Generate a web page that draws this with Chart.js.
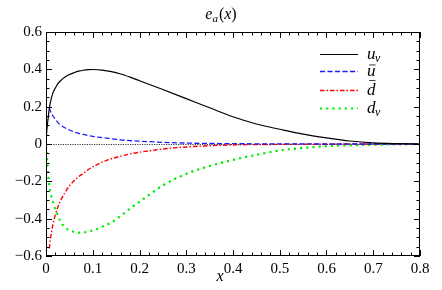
<!DOCTYPE html>
<html>
<head>
<meta charset="utf-8">
<script src="https://cdn.jsdelivr.net/npm/chart.js@4/dist/chart.umd.min.js"></script>
<style>
    body { margin: 0; background: #fff; }
    #wrap { width: 442px; height: 290px; position: relative; }
    #wrap canvas { position: absolute; left: 0; top: 0; }
    .probe { position: absolute; left: 2px; top: 270px; color: #fff; font: 12px "Liberation Serif"; }
</style>
</head>
<body>
<div id="wrap">
    <span class="probe">0.1 <i>x u</i></span>
    <canvas id="chart" width="442" height="290"></canvas>
</div>
<script>
const xs = [0, 0.002, 0.005, 0.007, 0.01, 0.015, 0.02, 0.025, 0.03, 0.04, 0.05, 0.06, 0.07, 0.08, 0.09, 0.1,
    0.12, 0.14, 0.16, 0.18, 0.2, 0.25, 0.3, 0.35, 0.4, 0.45, 0.5, 0.55, 0.6, 0.65, 0.7, 0.75, 0.8];
const uv = [0.0, 0.08, 0.146, 0.19, 0.23, 0.275, 0.30, 0.322, 0.336, 0.357, 0.372, 0.382, 0.39, 0.395, 0.398, 0.399,
    0.396, 0.388, 0.375, 0.358, 0.339, 0.292, 0.243, 0.194, 0.146, 0.107, 0.079, 0.053, 0.033, 0.016, 0.006, 0.002, 0.0];
const ubar = [null, null, null, 0.195, 0.172, 0.15, 0.132, 0.117, 0.104, 0.087, 0.075, 0.065, 0.057, 0.051, 0.046, 0.041,
    0.034, 0.028, 0.022, 0.018, 0.015, 0.009, 0.005, 0.003, 0.002, 0.001, 0.001, 0.0005, 0, 0, 0, 0, 0];
const dbar = [null, null, null, -0.56, -0.5, -0.43, -0.38, -0.34, -0.309, -0.262, -0.225, -0.197, -0.175, -0.157, -0.138, -0.122,
    -0.097, -0.079, -0.065, -0.053, -0.044, -0.027, -0.016, -0.009, -0.005, -0.003, -0.002, -0.001, -0.001, 0, 0, 0, 0];
const dv = [-0.01, -0.07, -0.175, -0.225, -0.265, -0.31, -0.35, -0.38, -0.41, -0.445, -0.462, -0.471, -0.475, -0.474, -0.469, -0.463,
    -0.443, -0.42, -0.385, -0.345, -0.31, -0.222, -0.16, -0.118, -0.085, -0.058, -0.035, -0.021, -0.012, -0.007, -0.004, -0.002, -0.001];

const xTickValues = [0, 0.1, 0.2, 0.3, 0.4, 0.5, 0.6, 0.7, 0.8];
const xTickLabels = ['0', '0.1', '0.2', '0.3', '0.4', '0.5', '0.6', '0.7', '0.8'];
const yTickValues = [-0.6, -0.4, -0.2, 0, 0.2, 0.4, 0.6];
const yTickLabels = ['\u22120.6', '\u22120.4', '\u22120.2', '0', '0.2', '0.4', '0.6'];

const SERIF = '"Liberation Serif", "DejaVu Serif", serif';

function pts(ys) {
    return xs.map((x, i) => ({x: x, y: ys[i]})).filter(p => p.y !== null);
}

const series = [
    {name: 'u', sub: 'v', bar: false, data: uv, color: '#000000', width: 1.2, dash: []},
    {name: 'u', sub: '', bar: true, data: ubar, color: '#1a1aff', width: 1.3, dash: [5, 2.5]},
    {name: 'd', sub: '', bar: true, data: dbar, color: '#ff0000', width: 1.4, dash: [4.5, 2, 1.5, 2]},
    {name: 'd', sub: 'v', bar: false, data: dv, color: '#00ee00', width: 2.2, dash: [2.2, 4]},
];

// texte mixte italique / indice
function drawMath(ctx, x, y, name, sub, bar, size) {
    ctx.save();
    ctx.fillStyle = '#000';
    ctx.textBaseline = 'alphabetic';
    ctx.textAlign = 'left';
    ctx.font = 'italic ' + size + 'px ' + SERIF;
    ctx.fillText(name, x, y);
    const w = ctx.measureText(name).width;
    if (bar) {
        ctx.strokeStyle = '#000';
        ctx.lineWidth = 0.8;
        const top = name === 'd' ? y - size * 0.82 : y - size * 0.62;
        ctx.beginPath();
        ctx.moveTo(x + w * 0.25, top);
        ctx.lineTo(x + w * 1.0, top);
        ctx.stroke();
    }
    if (sub) {
        ctx.font = 'italic ' + Math.round(size * 0.7) + 'px ' + SERIF;
        ctx.fillText(sub, x + w - 0.5, y + 3);
    }
    ctx.restore();
}

const framePlugin = {
    id: 'frame',
    beforeDatasetsDraw(chart) {
        const {ctx, chartArea: a, scales: {y}} = chart;
        const y0 = Math.round(y.getPixelForValue(0)) + 0.5;
        ctx.save();
        ctx.strokeStyle = '#000';
        ctx.lineWidth = 0.8;
        ctx.setLineDash([1.2, 1.2]);
        ctx.beginPath();
        ctx.moveTo(a.left, y0);
        ctx.lineTo(a.right, y0);
        ctx.stroke();
        ctx.restore();
    },
    afterDatasetsDraw(chart) {
        const {ctx, chartArea: a, scales: {x, y}} = chart;
        ctx.save();
        ctx.strokeStyle = '#000';
        ctx.lineWidth = 1;
        ctx.strokeRect(a.left + 0.5, a.top + 0.5, a.right - a.left - 1, a.bottom - a.top - 1);

        ctx.beginPath();
        for (let i = 0; i <= 40; i++) {
            const px = Math.round(x.getPixelForValue(i * 0.02)) + 0.5;
            const len = i % 5 === 0 ? 6 : 3.5;
            ctx.moveTo(px, a.bottom); ctx.lineTo(px, a.bottom - len);
            ctx.moveTo(px, a.top); ctx.lineTo(px, a.top + len);
        }
        for (let i = 0; i <= 24; i++) {
            const py = Math.round(y.getPixelForValue(-0.6 + i * 0.05)) + 0.5;
            const len = i % 4 === 0 ? 6 : 3.5;
            ctx.moveTo(a.left, py); ctx.lineTo(a.left + len, py);
            ctx.moveTo(a.right, py); ctx.lineTo(a.right - len, py);
        }
        ctx.stroke();

        // légende
        const rows = [54.5, 71.5, 90.5, 108.5];
        series.forEach((s, i) => {
            ctx.save();
            ctx.strokeStyle = s.color;
            ctx.lineWidth = s.width;
            ctx.setLineDash(s.dash);
            ctx.beginPath();
            ctx.moveTo(320, rows[i]);
            ctx.lineTo(358, rows[i]);
            ctx.stroke();
            ctx.restore();
            drawMath(ctx, 367, rows[i] + 4, s.name, s.sub, s.bar, 17);
        });

        // titre
        ctx.fillStyle = '#000';
        ctx.textBaseline = 'alphabetic';
        ctx.font = 'italic 16px ' + SERIF;
        const we = ctx.measureText('e').width;
        ctx.font = 'italic 11px ' + SERIF;
        const wa = ctx.measureText('a').width;
        ctx.font = '16px ' + SERIF;
        const wp = ctx.measureText('(').width;
        ctx.font = 'italic 16px ' + SERIF;
        const wx = ctx.measureText('x').width;
        const total = we + wa + 2 * wp + wx + 1;
        let tx = 221 - total / 2;
        const ty = 19;
        ctx.font = 'italic 16px ' + SERIF; ctx.fillText('e', tx, ty); tx += we;
        ctx.font = 'italic 11px ' + SERIF; ctx.fillText('a', tx, ty + 3); tx += wa + 1;
        ctx.font = '16px ' + SERIF; ctx.fillText('(', tx, ty); tx += wp;
        ctx.font = 'italic 16px ' + SERIF; ctx.fillText('x', tx, ty); tx += wx;
        ctx.font = '16px ' + SERIF; ctx.fillText(')', tx, ty);

        // axe x
        ctx.font = 'italic 16px ' + SERIF;
        ctx.textAlign = 'center';
        ctx.fillText('x', 220, 281);
        ctx.restore();
    }
};

function drawChart() {
    new Chart(document.getElementById('chart'), {
        type: 'line',
        data: {
            datasets: series.map(s => ({
                label: s.name + s.sub,
                data: pts(s.data),
                borderColor: s.color,
                borderWidth: s.width,
                borderDash: s.dash,
                pointRadius: 0,
                fill: false,
                cubicInterpolationMode: 'monotone',
            }))
        },
        options: {
            responsive: false,
            animation: false,
            layout: {padding: {left: 0, right: 22, top: 32, bottom: 0}},
            plugins: {
                legend: {display: false},
                title: {display: false},
                tooltip: {enabled: false},
            },
            scales: {
                x: {
                    type: 'linear',
                    min: 0,
                    max: 0.8,
                    afterFit: s => { s.height = 34; },
                    afterBuildTicks: s => { s.ticks = xTickValues.map(v => ({value: v})); },
                    grid: {display: false, drawTicks: false},
                    border: {display: false},
                    ticks: {
                        autoSkip: false,
                        maxRotation: 0,
                        padding: 4,
                        color: '#000',
                        font: {family: SERIF, size: 15},
                        callback: (v, i) => xTickLabels[i],
                    },
                },
                y: {
                    type: 'linear',
                    min: -0.6,
                    max: 0.6,
                    afterFit: s => { s.width = 46; },
                    afterBuildTicks: s => { s.ticks = yTickValues.map(v => ({value: v})); },
                    grid: {display: false, drawTicks: false},
                    border: {display: false},
                    ticks: {
                        autoSkip: false,
                        padding: 4,
                        color: '#000',
                        font: {family: SERIF, size: 15},
                        callback: (v, i) => yTickLabels[i],
                    },
                },
            },
        },
        plugins: [framePlugin],
    });
}

Promise.all([
    document.fonts.load('15px "Liberation Serif"'),
    document.fonts.load('italic 16px "Liberation Serif"'),
]).then(drawChart, drawChart);
</script>
</body>
</html>
